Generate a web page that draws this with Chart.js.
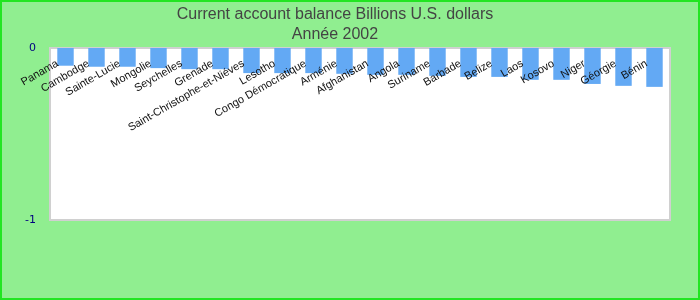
<!DOCTYPE html>
<html>
<head>
<meta charset="utf-8">
<script src="https://cdn.jsdelivr.net/npm/chart.js@4"></script>
<style>
  html, body { margin: 0; padding: 0; background: #90EE90; }
  #wrap { width: 700px; height: 300px; }
</style>
</head>
<body>
<div id="wrap"><canvas id="chart" width="700" height="300"></canvas></div>
<script>
    'use strict';

    var countries = ['Panama', 'Cambodge', 'Sainte-Lucie', 'Mongolie', 'Seychelles', 'Grenade',
        'Saint-Christophe-et-Niéves', 'Lesotho', 'Congo Démocratique', 'Arménie', 'Afghanistan',
        'Angola', 'Suriname', 'Barbade', 'Belize', 'Laos', 'Kosovo', 'Niger', 'Géorgie', 'Bénin'];
    var balance = [-0.103, -0.109, -0.109, -0.117, -0.123, -0.123, -0.146, -0.146, -0.146, -0.150,
        -0.156, -0.156, -0.162, -0.168, -0.168, -0.185, -0.185, -0.209, -0.220, -0.226];
    var yTicks = [0, -1];
    var titleLines = ['Current account balance Billions U.S. dollars', 'Année 2002'];

    // green page + white plot area with a thin grey frame
    var background = {
        id: 'background',
        beforeDraw: function(chart) {
            var ctx = chart.ctx, a = chart.chartArea;
            ctx.save();
            ctx.fillStyle = '#90EE90';
            ctx.fillRect(0, 0, chart.width, chart.height);
            ctx.strokeStyle = '#22E522';
            ctx.lineWidth = 2;
            ctx.strokeRect(1, 1, chart.width - 2, chart.height - 2);
            ctx.fillStyle = '#ffffff';
            ctx.fillRect(a.left, a.top, a.right - a.left, a.bottom - a.top);
            ctx.strokeStyle = '#d0d0d0';
            ctx.lineWidth = 2;
            ctx.strokeRect(a.left, a.top, a.right - a.left, a.bottom - a.top);
            ctx.restore();
        }
    };

    var chart = new Chart(document.getElementById('chart'), {
        type: 'bar',
        data: {
            labels: countries,
            datasets: [{
                data: balance,
                backgroundColor: '#63A9F4',
                borderWidth: 0,
                categoryPercentage: 1.0,
                barPercentage: 0.53
            }]
        },
        options: {
            responsive: false,
            animation: false,
            layout: { padding: { left: 0, right: 30, top: 0, bottom: 80 } },
            plugins: {
                legend: { display: false },
                tooltip: { enabled: false },
                title: {
                    display: true,
                    text: titleLines,
                    color: '#444444',
                    font: { family: 'Liberation Sans', size: 16, weight: 'normal', lineHeight: 1.25 },
                    padding: { top: 5, bottom: 3 }
                }
            },
            scales: {
                x: {
                    position: { y: 0 },
                    grid: { display: false, drawTicks: false },
                    border: { display: false },
                    ticks: {
                        z: 1,
                        autoSkip: false,
                        minRotation: 30,
                        maxRotation: 30,
                        padding: 9,
                        labelOffset: -8,
                        color: '#111111',
                        font: { family: 'Liberation Sans', size: 11 }
                    }
                },
                y: {
                    min: -1,
                    max: 0,
                    afterBuildTicks: function(axis) {
                        axis.ticks = yTicks.map(function(v) { return { value: v }; });
                    },
                    afterFit: function(axis) { axis.width = 50; },
                    grid: { display: false },
                    border: { display: false },
                    ticks: {
                        padding: 6,
                        color: '#000080',
                        font: { family: 'DejaVu Sans', size: 11 }
                    }
                }
            }
        },
        plugins: [background]
    });
</script>
</body>
</html>
